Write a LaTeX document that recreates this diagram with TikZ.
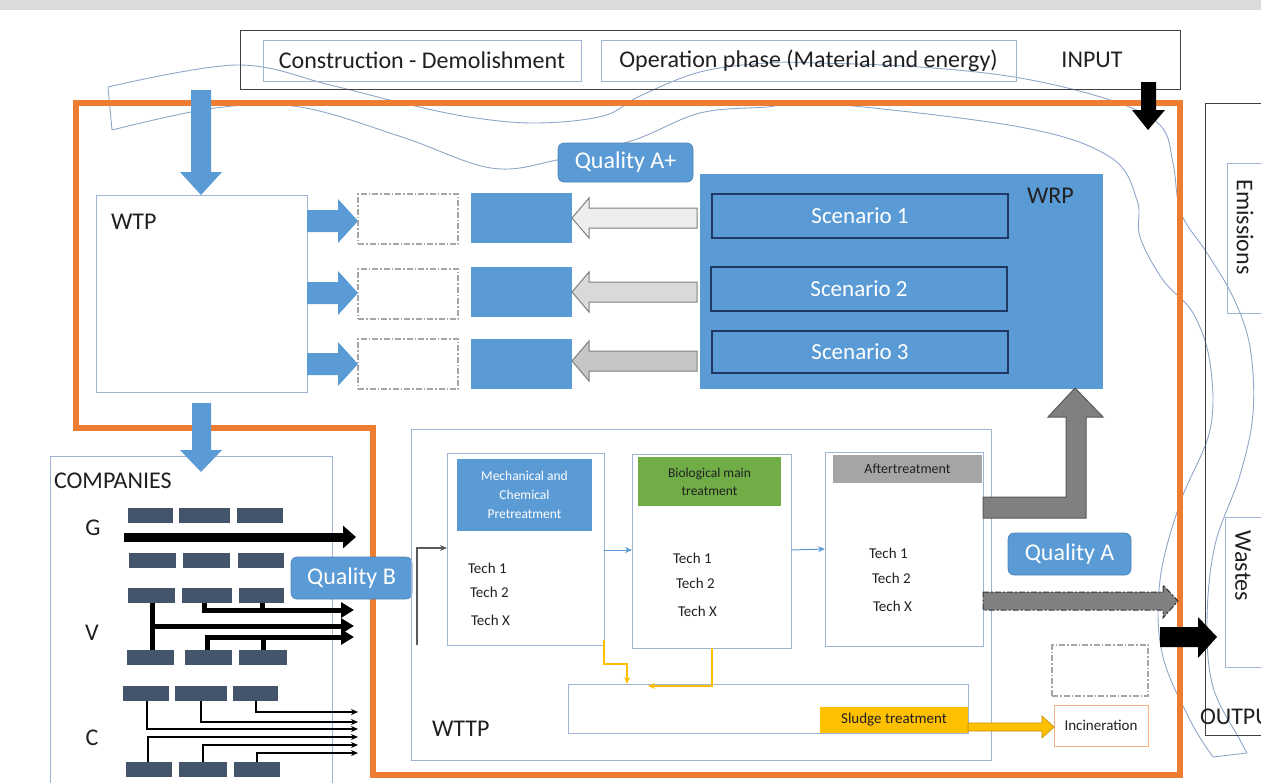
\documentclass[tikz,border=0pt]{standalone}
\usepackage{fontspec}
\setmainfont{Carlito}
\usetikzlibrary{arrows.meta}
\definecolor{obl}{HTML}{5B9BD5}
\definecolor{org}{HTML}{ED7D31}
\definecolor{bord}{HTML}{9FB4D2}
\definecolor{slate}{HTML}{44546A}
\definecolor{dkb}{HTML}{203864}
\definecolor{grn}{HTML}{70AD47}
\definecolor{yel}{HTML}{FFC000}
\definecolor{yeld}{HTML}{C09000}
\definecolor{txt}{HTML}{202020}
\definecolor{hgry}{HTML}{A5A5A5}
\definecolor{arA}{HTML}{EDEDED}
\definecolor{arB}{HTML}{D9D9D9}
\definecolor{arC}{HTML}{C6C6C6}
\definecolor{arbd}{HTML}{7F7F7F}
\definecolor{lgry}{HTML}{808080}
\definecolor{dgry}{HTML}{595959}
\definecolor{incb}{HTML}{F4B183}
\definecolor{ribbon}{HTML}{8EA6C8}
\definecolor{dashc}{HTML}{A6A6A6}
\tikzset{
  bx/.style={draw=bord, line width=0.9pt, inner sep=0pt, outer sep=0pt, anchor=north west},
  big/.style={font=\fontsize{24}{28}\selectfont, text=txt},
  mid/.style={font=\fontsize{15}{18}\selectfont, text=txt},
  small/.style={font=\fontsize{13.5}{19}\selectfont},
  qbox/.style={bx, draw=obl!85!black, line width=0.6pt, fill=obl, rounded corners=6pt, text=white, font=\fontsize{24}{28}\selectfont},
  scen/.style={bx, draw=dkb, line width=1.2pt, fill=obl, text=white, font=\fontsize{23}{28}\selectfont},
  dbox/.style={bx, draw=dashc, line width=1.2pt, dash pattern=on 6pt off 2pt on 1.5pt off 2pt},
  blk/.style={fill=slate, inner sep=0pt, outer sep=0pt, anchor=north west},
  lab/.style={inner sep=0pt, outer sep=0pt},
  barrow/.style={fill=obl},
  garrow/.style={draw=arbd, line width=1pt},
  thickv/.style={line width=5pt, -{Triangle[length=13pt,width=15pt]}},
  thinc/.style={line width=1.1pt, -{Stealth[length=7pt,width=6pt]}},
}
\begin{document}
\begin{tikzpicture}[x=1pt,y=-1pt]
\useasboundingbox (0,0) rectangle (1261,782);
\clip (0,0) rectangle (1261,782);
\fill[gray!28] (0,0) rectangle (1261,10);

% decorative ribbon
\draw[ribbon, line width=0.9pt] plot[smooth, tension=0.6] coordinates {(108,87) (237,65) (330,85) (402,103) (469,117) (536,123) (603,116) (640,96) (700,72) (767,63) (817,63) (920,67) (1020,78) (1110,100) (1160,125) (1173,163) (1181,213) (1207,253) (1233,297) (1250,347) (1253,413) (1240,475) (1215,545) (1207,620) (1213,687) (1240,740) (1247,753)};
\draw[ribbon, line width=0.9pt] plot[smooth, tension=0.6] coordinates {(112,130) (215,108) (300,107) (402,137) (491,168) (557,160) (634,140) (700,113) (767,107) (820,103) (1020,127) (1110,157) (1137,200) (1140,237) (1163,280) (1193,313) (1210,363) (1210,430) (1180,503) (1160,580) (1162,653) (1190,720) (1213,757)};
\draw[ribbon, line width=0.9pt] (108,87) -- (112,130);
\draw[ribbon, line width=0.9pt] (1213,757) -- (1247,753);

% orange system boundary
\draw[org, line width=5.5pt, line join=miter] (76,103) -- (1180,103) -- (1180,775) -- (373,775) -- (373,428) -- (76,428) -- cycle;

% INPUT area
\node[bx, draw=black!75, line width=1pt, minimum width=940pt, minimum height=59pt] (input) at (240,30) {};
\node[bx, minimum width=318pt, minimum height=41pt, big] (cons) at (263,40) {Construction - Demolishment};
\node[bx, minimum width=415pt, minimum height=41pt, big] (oper) at (601,40) {Operation phase (Material and energy)};
\node[lab, big] (inputT) at (1092,60) {INPUT};

% OUTPUT area
\node[bx, draw=black!75, line width=1pt, minimum width=90pt, minimum height=632pt] (output) at (1205,103) {};
\node[lab, big, anchor=west] (outputT) at (1200,717) {OUTPUT};
\node[bx, minimum width=60pt, minimum height=150pt] (emis) at (1227,163) {};
\node[lab, big, rotate=-90] (emisT) at (1245,227) {Emissions};
\node[bx, minimum width=60pt, minimum height=150pt] (wastes) at (1225,517) {};
\node[lab, big, rotate=-90] (wastesT) at (1243,566) {Wastes};

% WTP
\node[bx, minimum width=211pt, minimum height=197pt] (wtp) at (96,195) {};
\node[lab, big, anchor=west] (wtpT) at (111,222) {WTP};
\fill[barrow] (191,90) -- (211,90) -- (211,172) -- (222,172) -- (201,195) -- (180,172) -- (191,172) -- cycle;

\foreach \n/\c in {1/221,2/293,3/364} {
  \fill[barrow] (307,\c-11) -- (338,\c-11) -- (338,\c-22) -- (358,\c) -- (338,\c+22) -- (338,\c+11) -- (307,\c+11) -- cycle;
}
\node[dbox, minimum width=100pt, minimum height=50pt] (d1) at (358,194) {};
\node[dbox, minimum width=100pt, minimum height=50pt] (d2) at (358,269) {};
\node[dbox, minimum width=100pt, minimum height=50pt] (d3) at (358,339) {};
\node[bx, draw=none, fill=obl, minimum width=101pt, minimum height=50pt] (b1) at (471,193) {};
\node[bx, draw=none, fill=obl, minimum width=101pt, minimum height=50pt] (b2) at (471,267) {};
\node[bx, draw=none, fill=obl, minimum width=101pt, minimum height=50pt] (b3) at (471,339) {};

\foreach \c/\f in {218/arA,292/arB,361/arC} {
  \draw[garrow, fill=\f] (572,\c) -- (589,\c-20) -- (589,\c-10) -- (697,\c-10) -- (697,\c+10) -- (589,\c+10) -- (589,\c+20) -- cycle;
}

\node[qbox, minimum width=135pt, minimum height=39pt] (qap) at (558,143) {Quality A+};

% WRP
\node[bx, draw=obl, fill=obl, minimum width=402pt, minimum height=214pt] (wrp) at (700,174) {};
\node[lab, big, anchor=west] (wrpT) at (1027,196) {WRP};
\node[scen, minimum width=296pt, minimum height=44pt] (sc1) at (712,194) {Scenario 1};
\node[scen, minimum width=296pt, minimum height=44pt] (sc2) at (711,267) {Scenario 2};
\node[scen, minimum width=296pt, minimum height=42pt] (sc3) at (712,331) {Scenario 3};

% COMPANIES
\node[bx, minimum width=282pt, minimum height=340pt] (comp) at (50,456) {};
\node[lab, big, anchor=west] (compT) at (54,481) {COMPANIES};
\node[lab, big] (gT) at (93,528) {G};
\node[lab, big] (vT) at (92,633) {V};
\node[lab, big] (cT) at (92,738) {C};
\fill[barrow] (192,403) -- (211,403) -- (211,450) -- (222,450) -- (201,472) -- (180,450) -- (192,450) -- cycle;

% company blocks
\foreach \x/\y/\w/\nm in {128/508/45/g1,179/508/51/g2,237/508/46/g3,
                          129/553/47/g4,183/553/47/g5,238/553/46/g6,
                          128/588/47/v1,182/588/50/v2,239/588/45/v3,
                          127/650/47/v4,185/650/47/v5,239/650/48/v6,
                          123/686/46/c1,175/686/52/c2,233/686/45/c3,
                          126/762/46/c4,179/762/48/c5,234/762/46/c6} {
  \node[blk, minimum width=\w pt, minimum height=15pt] (\nm) at (\x,\y) {};
}
\coordinate (gend) at (356,537);
\draw[line width=9pt, -{Triangle[length=13pt,width=22pt]}] (124,537) -- (gend);
% V arrows
\coordinate (va) at (354,610);
\coordinate (vb) at (354,626);
\coordinate (vc) at (354,637);
\draw[line width=5pt] (v2.south -| 204,0) -- (204,610);
\draw[line width=5pt] (v3.south -| 262,0) -- (262,610);
\draw[thickv] (201.5,610) -- (va);
\draw[line width=5pt] (v1.south -| 152,0) -- (v4.north -| 152,0);
\draw[thickv] (149.5,626) -- (vb);
\draw[line width=5pt] (207,634.5) -- (v5.north -| 207,0);
\draw[line width=5pt] (263,637) -- (v6.north -| 263,0);
\draw[thickv] (204.5,637) -- (vc);
% C arrows
\foreach \xx/\yy/\src/\s in {256/712/c3/south,201/722/c2/south,147/729/c1/south,148/737/c4/north,203/745/c5/north,257/753/c6/north} {
  \draw[thinc] (\src.\s -| \xx,0) -- (\xx,\yy) -- (358,\yy);
}

\node[qbox, minimum width=121pt, minimum height=42pt] (qb) at (291,557) {Quality B};

% WTTP
\node[bx, minimum width=580pt, minimum height=331pt] (wttp) at (411,429) {};
\node[lab, big, anchor=west] (wttpT) at (432,729) {WTTP};

\node[bx, minimum width=157pt, minimum height=192pt] (mech) at (447,453) {};
\node[bx, draw=none, fill=obl, minimum width=135pt, minimum height=72pt, text=white, small, align=center, anchor=north west] (mechH) at (457,459) {Mechanical and\\Chemical\\Pretreatment};
\node[lab, mid, anchor=west] (m1) at (468,568) {Tech 1};
\node[lab, mid, anchor=west] (m2) at (470,592) {Tech 2};
\node[lab, mid, anchor=west] (m3) at (471,620) {Tech X};

\node[bx, minimum width=159pt, minimum height=194pt] (bio) at (632,454) {};
\node[bx, draw=none, fill=grn, minimum width=143pt, minimum height=49pt, text=txt, small, font=\fontsize{13.5}{18}\selectfont, align=center] (bioH) at (638,457) {Biological main\\treatment};
\node[lab, mid, anchor=west] (b1T) at (673,558) {Tech 1};
\node[lab, mid, anchor=west] (b2T) at (676,583) {Tech 2};
\node[lab, mid, anchor=west] (b3T) at (678,611) {Tech X};

\node[bx, minimum width=158pt, minimum height=194pt] (after) at (825,452) {};
\node[bx, draw=none, fill=hgry, minimum width=149pt, minimum height=28pt, text=txt, font=\fontsize{14}{18}\selectfont] (afterH) at (833,455) {Aftertreatment};
\node[lab, mid, anchor=west] (a1) at (869,553) {Tech 1};
\node[lab, mid, anchor=west] (a2) at (872,578) {Tech 2};
\node[lab, mid, anchor=west] (a3) at (873,606) {Tech X};

\draw[dgry, line width=1.1pt, -{Stealth[length=7pt,width=6pt]}] (417,645) -- (417,548) -- (mech.west |- 0,548);
\draw[obl, line width=1pt, -{Stealth[length=7pt,width=6pt]}] (mech.east |- 0,550) -- (bio.west |- 0,550);
\draw[obl, line width=1pt, -{Stealth[length=7pt,width=6pt]}] (bio.east |- 0,550) -- (after.west |- 0,549);

\node[bx, minimum width=400pt, minimum height=49pt] (sludge) at (568,684) {};
\node[bx, draw=none, fill=yel, minimum width=148pt, minimum height=26pt, text=txt, font=\fontsize{15}{18}\selectfont] (sludgeH) at (820,707) {Sludge treatment};
\draw[yel, line width=1.2pt, -{Stealth[length=7pt,width=6pt]}] (604,640) -- (604,664) -- (627,664) -- (627,684);
\draw[yel, line width=1.2pt, -{Stealth[length=7pt,width=6pt]}] (bio.south -| 712,0) -- (712,686) -- (648,686);

\node[bx, draw=incb, minimum width=94pt, minimum height=41pt, font=\fontsize{15}{18}\selectfont, text=txt] (incin) at (1054,705) {Incineration};
\node[dbox, minimum width=96pt, minimum height=51pt] (d4) at (1052,645) {};
\draw[draw=yeld, fill=yel, line width=0.6pt] (sludgeH.east |- 0,723) -- (1042,723) -- (1042,716) -- (incin.west |- 0,727) -- (1042,738) -- (1042,731) -- (sludgeH.east |- 0,731) -- cycle;

% gray L arrow to WRP
\draw[draw=dgry, fill=lgry, line width=1pt] (after.east |- 0,497) -- (1066,497) -- (1066,417) -- (1048,417) -- (wrp.south -| 1075,0) -- (1103,417) -- (1086,417) -- (1086,518) -- (after.east |- 0,518) -- cycle;

% Quality A
\node[qbox, minimum width=123pt, minimum height=42pt] (qa) at (1008,533) {Quality A};
\draw[draw=black!80, fill=lgry, line width=1pt, dash pattern=on 6pt off 2pt on 2pt off 2pt] (after.east |- 0,592) -- (1163,592) -- (1163,585) -- (1178,601) -- (1163,618) -- (1163,610) -- (after.east |- 0,610) -- cycle;

% black arrows
\fill[black] (1160,627) -- (1198,627) -- (1198,617) -- (1217,637) -- (1198,658) -- (1198,647) -- (1160,647) -- cycle;
\fill[black] (1141,82) -- (1156,82) -- (1156,110) -- (1165,110) -- (1148,130) -- (1132,110) -- (1141,110) -- cycle;
\end{tikzpicture}
\end{document}
